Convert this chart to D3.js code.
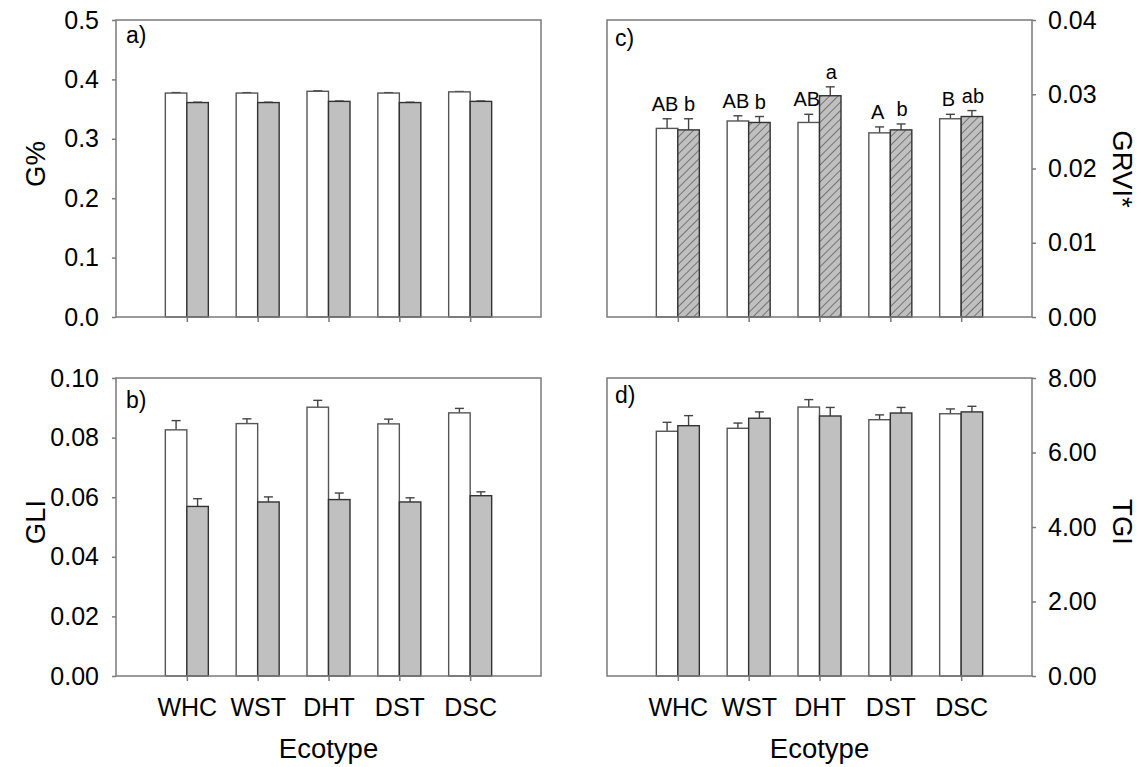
<!DOCTYPE html>
<html>
<head>
<meta charset="utf-8">
<script src="https://cdn.jsdelivr.net/npm/d3@7"></script>
<style>
  html, body { margin: 0; padding: 0; background: #fff; }
  svg { display: block; font-family: "Liberation Sans", Arial, sans-serif; }
</style>
</head>
<body>
<svg id="chart" width="1142" height="767"></svg>
<script>
// Ecotypes on the x axis
const ecotypes = ["WHC", "WST", "DHT", "DST", "DSC"];

// a) G%
const gPctWhite = [0.377, 0.377, 0.380, 0.377, 0.379];
const gPctWhiteSE = [0.0008, 0.0007, 0.0008, 0.0007, 0.0006];
const gPctGrey = [0.361, 0.361, 0.363, 0.361, 0.363];
const gPctGreySE = [0.0006, 0.0006, 0.0006, 0.0006, 0.0006];
const gPctTicks = [0, 0.1, 0.2, 0.3, 0.4, 0.5];

// b) GLI
const gliWhite = [0.0826, 0.0847, 0.0902, 0.0846, 0.0883];
const gliWhiteSE = [0.0031, 0.0016, 0.0023, 0.0016, 0.0015];
const gliGrey = [0.0569, 0.0584, 0.0592, 0.0584, 0.0605];
const gliGreySE = [0.0026, 0.0017, 0.0022, 0.0014, 0.0013];
const gliTicks = [0, 0.02, 0.04, 0.06, 0.08, 0.10];

// c) GRVI*
const grviWhite = [0.0254, 0.0264, 0.0262, 0.0248, 0.0267];
const grviWhiteSE = [0.0013, 0.0007, 0.0011, 0.0008, 0.0006];
const grviGrey = [0.0252, 0.0262, 0.0298, 0.0252, 0.0270];
const grviGreySE = [0.0015, 0.0008, 0.0012, 0.0008, 0.0008];
const grviTicks = [0, 0.01, 0.02, 0.03, 0.04];
const grviLettersWhite = ["AB", "AB", "AB", "A", "B"];
const grviLettersGrey = ["b", "b", "a", "b", "ab"];

// d) TGI
const tgiWhite = [6.57, 6.65, 7.22, 6.88, 7.04];
const tgiWhiteSE = [0.24, 0.14, 0.20, 0.13, 0.13];
const tgiGrey = [6.72, 6.92, 6.98, 7.06, 7.09];
const tgiGreySE = [0.27, 0.17, 0.23, 0.15, 0.15];
const tgiTicks = [0, 2, 4, 6, 8];

const svg = d3.select("#chart");

// diagonal hatch for the GRVI* grey bars
const defs = svg.append("defs");
const hatch = defs.append("pattern")
  .attr("id", "hatch")
  .attr("patternUnits", "userSpaceOnUse")
  .attr("width", 6).attr("height", 6)
  .attr("patternTransform", "rotate(45)");
hatch.append("rect").attr("width", 6).attr("height", 6).attr("fill", "#c0c0c0");
hatch.append("line").attr("x1", 0).attr("y1", 0).attr("x2", 0).attr("y2", 6)
  .attr("stroke", "#333").attr("stroke-width", 1.1);

const FRAME = "#7a7a7a";
const BAR_W = 21.5;

function panel(opts) {
  const { x0, x1, y0, y1, max, ticks, fmt, side, white, whiteSE, grey, greySE,
          greyFill, tag, tagX, tagY, title, titleY, xLabels, lettersW, lettersG } = opts;

  const x = d3.scalePoint().domain(ecotypes).range([x0, x1]).padding(1);
  const y = d3.scaleLinear().domain([0, max]).range([y1, y0]);
  const g = svg.append("g");

  // bars
  const rows = ecotypes.map((e, i) => ({
    e, w: white[i], wse: whiteSE[i], gr: grey[i], gse: greySE[i]
  }));

  // error bars (drawn first so bar outlines sit on top of the stem)
  const err = (vx, v, se) => {
    g.append("line").attr("x1", vx).attr("x2", vx)
      .attr("y1", y(v)).attr("y2", y(v + se))
      .attr("stroke", "#444").attr("stroke-width", 1.4);
    g.append("line").attr("x1", vx - 4.5).attr("x2", vx + 4.5)
      .attr("y1", y(v + se)).attr("y2", y(v + se))
      .attr("stroke", "#444").attr("stroke-width", 1.4);
  };
  rows.forEach(r => {
    err(x(r.e) - BAR_W / 2, r.w, r.wse);
    err(x(r.e) + BAR_W / 2, r.gr, r.gse);
  });

  g.selectAll("rect.white").data(rows).enter().append("rect")
    .attr("x", d => x(d.e) - BAR_W)
    .attr("y", d => y(d.w))
    .attr("width", BAR_W)
    .attr("height", d => y(0) - y(d.w))
    .attr("fill", "#fff").attr("stroke", "#555").attr("stroke-width", 1.4);

  g.selectAll("rect.grey").data(rows).enter().append("rect")
    .attr("x", d => x(d.e))
    .attr("y", d => y(d.gr))
    .attr("width", BAR_W)
    .attr("height", d => y(0) - y(d.gr))
    .attr("fill", greyFill).attr("stroke", "#333").attr("stroke-width", 1.4);

  // significance letters
  if (lettersW) {
    rows.forEach((r, i) => {
      g.append("text").attr("x", x(r.e) - BAR_W / 2 - 2).attr("y", y(r.w + r.wse) - 8)
        .attr("text-anchor", "middle").attr("font-size", 20).text(lettersW[i]);
      g.append("text").attr("x", x(r.e) + BAR_W / 2 + 1).attr("y", y(r.gr + r.gse) - 8)
        .attr("text-anchor", "middle").attr("font-size", 20).text(lettersG[i]);
    });
  }

  // frame
  g.append("rect").attr("x", x0).attr("y", y0).attr("width", x1 - x0).attr("height", y1 - y0)
    .attr("fill", "none").attr("stroke", FRAME).attr("stroke-width", 1.5);

  // value axis
  const axis = (side === "left" ? d3.axisLeft(y) : d3.axisRight(y))
    .tickValues(ticks).tickFormat(d3.format(fmt)).tickSize(4).tickPadding(side === "left" ? 13 : 12);
  const ax = g.append("g")
    .attr("transform", `translate(${side === "left" ? x0 : x1},0)`)
    .call(axis);
  ax.select(".domain").remove();
  ax.selectAll(".tick line").attr("stroke", FRAME).attr("stroke-width", 1.5);
  ax.selectAll(".tick text").attr("font-size", 25).attr("fill", "#000")
    .attr("font-family", "Liberation Sans, Arial, sans-serif");

  // category axis
  const bx = g.append("g").attr("transform", `translate(0,${y1})`)
    .call(d3.axisBottom(x).tickSize(5).tickPadding(17).tickFormat(xLabels ? d => d : () => ""));
  bx.select(".domain").remove();
  bx.selectAll(".tick line").attr("stroke", FRAME).attr("stroke-width", 1.5);
  bx.selectAll(".tick text").attr("font-size", 25).attr("fill", "#000")
    .attr("font-family", "Liberation Sans, Arial, sans-serif");

  if (xLabels) {
    g.append("text").attr("x", (x0 + x1) / 2).attr("y", 758)
      .attr("text-anchor", "middle").attr("font-size", 27.5).text("Ecotype");
  }

  // panel tag
  g.append("text").attr("x", tagX).attr("y", tagY).attr("font-size", 23).text(tag);

  // axis title
  const tx = side === "left" ? 35 : 1123;
  g.append("text")
    .attr("transform", `translate(${tx},${titleY}) rotate(${side === "left" ? -90 : 90})`)
    .attr("text-anchor", "middle").attr("dy", "0.35em")
    .attr("font-size", 27.5).text(title);
}

panel({ x0: 116, x1: 541, y0: 20, y1: 317, max: 0.5, ticks: gPctTicks, fmt: ".1f", side: "left",
  white: gPctWhite, whiteSE: gPctWhiteSE, grey: gPctGrey, greySE: gPctGreySE, greyFill: "#c0c0c0",
  tag: "a)", tagX: 126, tagY: 43, title: "G%", titleY: 164, xLabels: false });

panel({ x0: 116, x1: 541, y0: 378, y1: 676, max: 0.10, ticks: gliTicks, fmt: ".2f", side: "left",
  white: gliWhite, whiteSE: gliWhiteSE, grey: gliGrey, greySE: gliGreySE, greyFill: "#c0c0c0",
  tag: "b)", tagX: 126, tagY: 408, title: "GLI", titleY: 522, xLabels: true });

panel({ x0: 607, x1: 1032, y0: 20, y1: 317, max: 0.04, ticks: grviTicks, fmt: ".2f", side: "right",
  white: grviWhite, whiteSE: grviWhiteSE, grey: grviGrey, greySE: grviGreySE, greyFill: "url(#hatch)",
  tag: "c)", tagX: 615, tagY: 46, title: "GRVI*", titleY: 169, xLabels: false,
  lettersW: grviLettersWhite, lettersG: grviLettersGrey });

panel({ x0: 607, x1: 1032, y0: 378, y1: 676, max: 8, ticks: tgiTicks, fmt: ".2f", side: "right",
  white: tgiWhite, whiteSE: tgiWhiteSE, grey: tgiGrey, greySE: tgiGreySE, greyFill: "#c0c0c0",
  tag: "d)", tagX: 615, tagY: 403, title: "TGI", titleY: 522, xLabels: true });
</script>
</body>
</html>
